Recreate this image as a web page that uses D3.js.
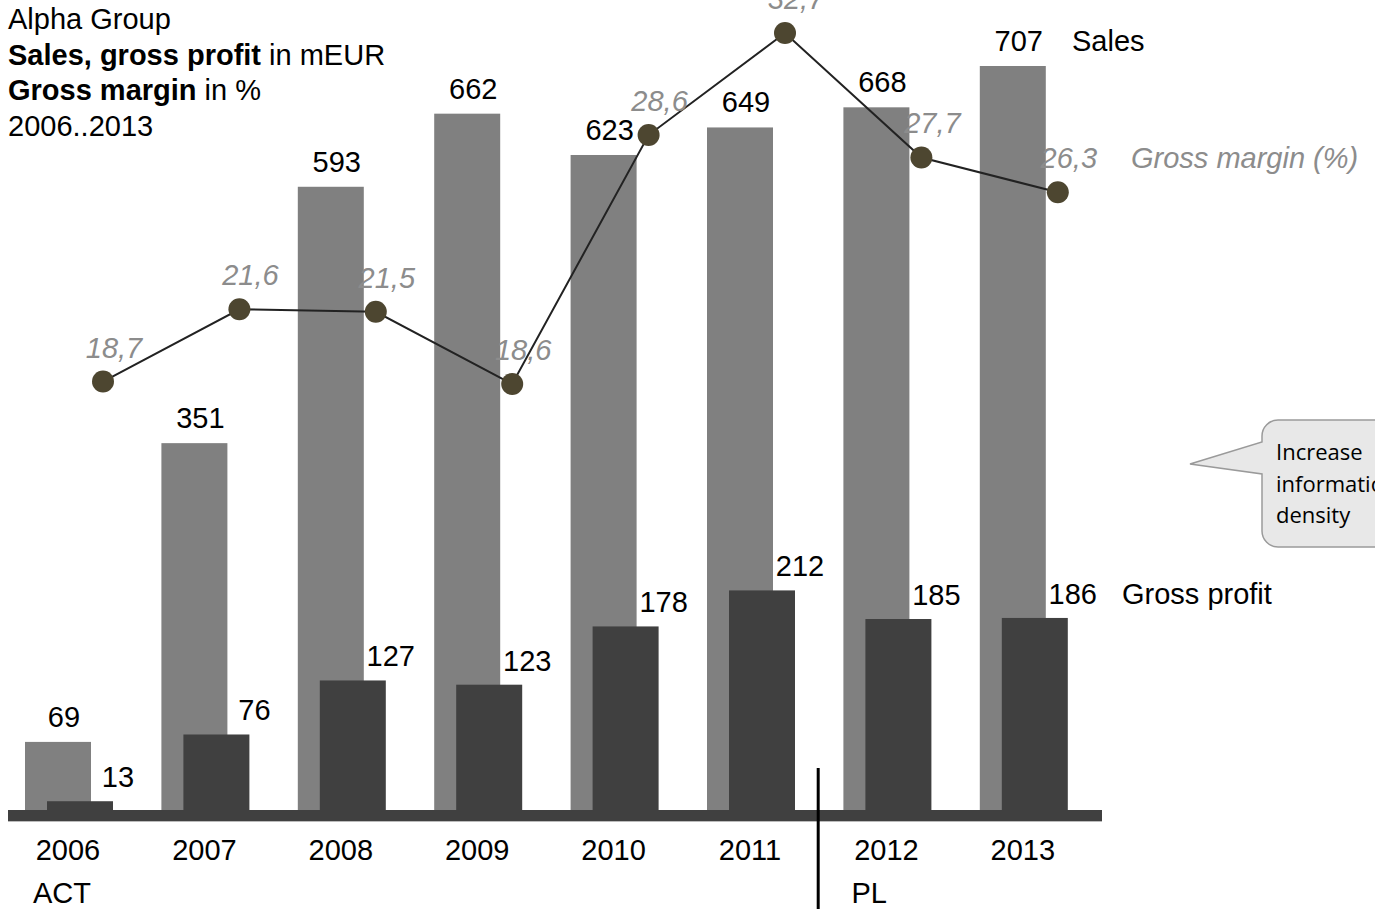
<!DOCTYPE html>
<html>
<head>
<meta charset="utf-8">
<script src="https://cdn.jsdelivr.net/npm/d3@7"></script>
<style>
  html, body { margin: 0; padding: 0; background: #fff; }
  svg { display: block; font-family: "Liberation Sans", Arial, sans-serif; }
</style>
</head>
<body>
<svg id="chart" width="1375" height="909"></svg>
<script>
// ---- data ----
const years = ["2006", "2007", "2008", "2009", "2010", "2011", "2012", "2013"];
const sales = [69, 351, 593, 662, 623, 649, 668, 707];
const grossProfit = [13, 76, 127, 123, 178, 212, 185, 186];
const grossMargin = [18.7, 21.6, 21.5, 18.6, 28.6, 32.7, 27.7, 26.3];
const marginLabels = ["18,7", "21,6", "21,5", "18,6", "28,6", "32,7", "27,7", "26,3"];
const titleLines = [
  [{ t: "Alpha Group", b: false }],
  [{ t: "Sales, gross profit", b: true }, { t: " in mEUR", b: false }],
  [{ t: "Gross margin", b: true }, { t: " in %", b: false }],
  [{ t: "2006..2013", b: false }]
];
const calloutLines = ["Increase", "information", "density"];

// ---- layout ----
const svg = d3.select("#chart");
const FS = 29;
const x = d3.scaleBand().domain(years).range([25, 25 + 7 * 136.4 + 88]).paddingInner(1 - 88 / 136.4).paddingOuter(0);
const bw = x.bandwidth();
const barW = 66;
const y = d3.scaleLinear().domain([0, 707]).range([815, 66]);
const yM = d3.scaleLinear().domain([18.6, 32.7]).range([384, 33]);

// sales bars
svg.append("g").selectAll("rect").data(years).join("rect")
  .attr("x", d => x(d)).attr("width", barW)
  .attr("y", (d, i) => y(sales[i])).attr("height", (d, i) => y(0) - y(sales[i]))
  .attr("fill", "#808080");

// gross profit bars
svg.append("g").selectAll("rect").data(years).join("rect")
  .attr("x", d => x(d) + bw - barW).attr("width", barW)
  .attr("y", (d, i) => y(grossProfit[i])).attr("height", (d, i) => y(0) - y(grossProfit[i]))
  .attr("fill", "#404040");

// baseline
svg.append("rect").attr("x", 8).attr("y", 810).attr("width", 1094).attr("height", 11).attr("fill", "#404040");
svg.append("line").attr("x1", 8).attr("x2", 1102).attr("y1", 821.5).attr("y2", 821.5).attr("stroke", "#bbb").attr("stroke-width", 1);

// sales labels
svg.append("g").selectAll("text").data(years).join("text")
  .attr("x", d => x(d) + barW / 2 + 6)
  .attr("y", (d, i) => y(sales[i]) - 15)
  .attr("text-anchor", "middle").attr("font-size", FS).attr("fill", "#000")
  .text((d, i) => sales[i]);

// gross profit labels
svg.append("g").selectAll("text").data(years).join("text")
  .attr("x", d => x(d) + bw + 5)
  .attr("y", (d, i) => y(grossProfit[i]) - 14)
  .attr("text-anchor", "middle").attr("font-size", FS).attr("fill", "#000")
  .text((d, i) => grossProfit[i]);

// margin line
const px = d => x(d) + 78;
const line = d3.line().x(d => px(d)).y((d, i) => yM(grossMargin[i]));
svg.append("path").datum(years).attr("d", line)
  .attr("fill", "none").attr("stroke", "#222").attr("stroke-width", 2);
svg.append("g").selectAll("circle").data(years).join("circle")
  .attr("cx", d => px(d)).attr("cy", (d, i) => yM(grossMargin[i])).attr("r", 11)
  .attr("fill", "#4d4630");
svg.append("g").selectAll("text").data(years).join("text")
  .attr("x", d => px(d) + 11)
  .attr("y", (d, i) => yM(grossMargin[i]) - 24)
  .attr("text-anchor", "middle").attr("font-size", FS).attr("font-style", "italic").attr("fill", "#8c8c8c")
  .text((d, i) => marginLabels[i]);

// series names
svg.append("text").attr("x", 1072).attr("y", y(sales[7]) - 15).attr("font-size", FS).text("Sales");
svg.append("text").attr("x", 1122).attr("y", y(grossProfit[7]) - 14).attr("font-size", FS).text("Gross profit");
svg.append("text").attr("x", 1131).attr("y", yM(grossMargin[7]) - 24)
  .attr("font-size", FS).attr("font-style", "italic").attr("fill", "#8c8c8c").text("Gross margin (%)");

// year labels
svg.append("g").selectAll("text").data(years).join("text")
  .attr("x", d => x(d) + bw / 2 - 1).attr("y", 860)
  .attr("text-anchor", "middle").attr("font-size", FS).text(d => d);
svg.append("text").attr("x", x("2006") + 8).attr("y", 903).attr("font-size", FS).text("ACT");
svg.append("text").attr("x", x("2012") + 8).attr("y", 903).attr("font-size", FS).text("PL");

// ACT / PL separator
const sepX = (x("2011") + bw + x("2012")) / 2 - 1;
svg.append("line").attr("x1", sepX).attr("x2", sepX).attr("y1", 768).attr("y2", 909)
  .attr("stroke", "#000").attr("stroke-width", 3);

// title
const title = svg.append("g");
titleLines.forEach((ln, i) => {
  const t = title.append("text").attr("x", 8).attr("y", 29 + i * 35.5).attr("font-size", FS);
  ln.forEach(seg => t.append("tspan").attr("font-weight", seg.b ? "bold" : "normal").text(seg.t));
});

// callout
const co = svg.append("g");
const cx0 = 1262, cy0 = 420, cx1 = 1420, cy1 = 547, r = 16;
const p = d3.path();
p.moveTo(cx0 + r, cy0);
p.lineTo(cx1 - r, cy0);
p.arcTo(cx1, cy0, cx1, cy0 + r, r);
p.lineTo(cx1, cy1 - r);
p.arcTo(cx1, cy1, cx1 - r, cy1, r);
p.lineTo(cx0 + r, cy1);
p.arcTo(cx0, cy1, cx0, cy1 - r, r);
p.lineTo(cx0, 474);
p.lineTo(1190, 464);
p.lineTo(cx0, 442);
p.lineTo(cx0, cy0 + r);
p.arcTo(cx0, cy0, cx0 + r, cy0, r);
p.closePath();
co.append("path").attr("d", p.toString()).attr("fill", "#e8e8e8").attr("stroke", "#9a9a9a").attr("stroke-width", 1.5);
co.selectAll("text").data(calloutLines).join("text")
  .attr("x", 1276).attr("y", (d, i) => 460 + i * 31.5)
  .attr("font-family", "'Open Sans', 'Noto Sans', sans-serif").attr("font-size", 22).attr("fill", "#000")
  .text(d => d);
</script>
</body>
</html>
